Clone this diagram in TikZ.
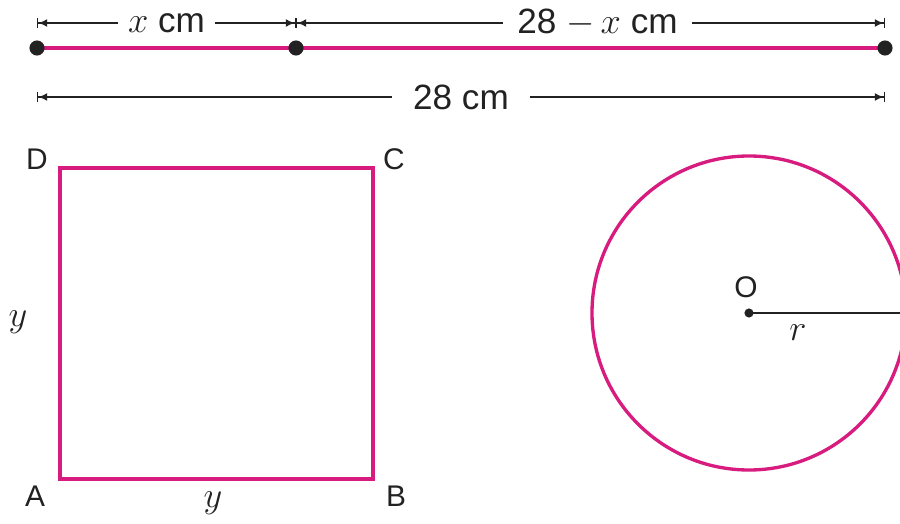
\documentclass[tikz,border=0pt]{standalone}
\usepackage{xcolor}
\definecolor{WirePink}{HTML}{D81B7E}
\definecolor{InkGrey}{HTML}{222222}
\usepackage{fontspec}
\setmainfont{Liberation Sans}
\usepackage{tikz}
\usetikzlibrary{arrows.meta, positioning, calc}
\tikzstyle{wire} = [color=WirePink, line width=2.3pt]
\tikzstyle{side} = [color=WirePink, line width=1.9pt]
\tikzstyle{dimline} = [color=InkGrey, line width=0.8pt, {Bar[width=6pt]Latex[length=5pt,width=4.5pt]}-{Latex[length=5pt,width=4.5pt]Bar[width=6pt]}]
\tikzstyle{dimlabel} = [fill=white, inner xsep=6pt, inner ysep=0pt, text=InkGrey, font=\fontsize{20}{24}\selectfont]
\tikzstyle{corner} = [text=InkGrey, font=\fontsize{17}{20}\selectfont]
\tikzstyle{dot} = [fill=InkGrey]

\begin{document}
\begin{tikzpicture}[x=0.02cm, y=-0.02cm]
        \useasboundingbox (0,0) rectangle (900,524);

        % Wire cut in two
        \coordinate (w1) at (37,48);
        \coordinate (w2) at (296,48);
        \coordinate (w3) at (885,48);
        \draw [wire] (w1) -- (w3);
        \fill [dot] (w1) circle (4.3pt);
        \fill [dot] (w2) circle (4.3pt);
        \fill [dot] (w3) circle (4.3pt);

        % Dimensions
        \coordinate (d1) at (37,23);
        \coordinate (d2) at (296,23);
        \coordinate (d3) at (885,23);
        \coordinate (e1) at (37,97);
        \coordinate (e2) at (885,97);
        \draw [dimline] (d1) -- node[dimlabel] (lx) {$x$ cm} (d2);
        \draw [dimline] (d2) -- node[dimlabel, xshift=4pt, inner xsep=8pt] (lrest) {28 $-\,x$ cm} (d3);
        \draw [dimline] (e1) -- node[dimlabel, inner xsep=12pt] (ltot) {28 cm} (e2);

        % Square
        \node [coordinate] (A) at (60,479) {};
        \node [coordinate] (B) at (373,479) {};
        \node [coordinate] (C) at (373,168) {};
        \node [coordinate] (D) at (60,168) {};
        \draw [side] (A) -- (B) -- (C) -- (D) -- cycle;
        \node [corner] (la) at (35,496) {A};
        \node [corner] (lb) at (396,496) {B};
        \node [corner] (lc) at (394,159) {C};
        \node [corner] (ld) at (37,159) {D};
        \node [corner, font=\fontsize{20}{24}\selectfont] (ly) at (18,322) {$y$};
        \node [corner, font=\fontsize{20}{24}\selectfont] (lyb) at (213,503) {$y$};

        % Circle
        \node [coordinate] (O) at (749,313) {};
        \coordinate (rim) at (906,313);
        \draw [side] (O) circle (157);
        \draw [color=InkGrey, line width=1.3pt] (O) -- (rim);
        \fill [dot] (O) circle (2.6pt);
        \node [corner] (lo) at (746,287) {O};
        \node [corner, font=\fontsize{20}{24}\selectfont] (lr) at (798,333) {$r$};
    \end{tikzpicture}
\end{document}
